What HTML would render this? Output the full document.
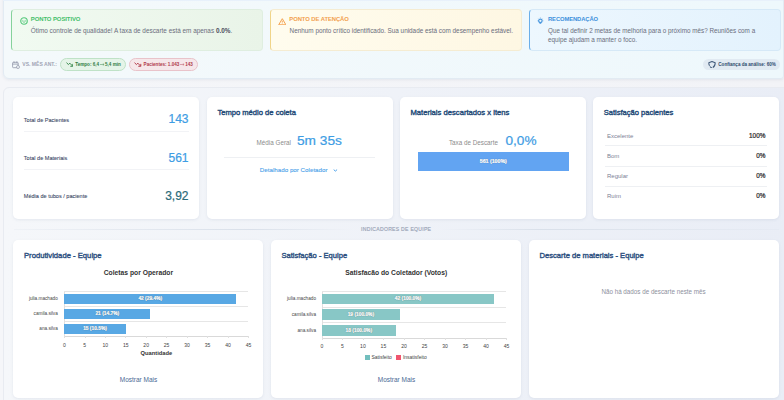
<!DOCTYPE html>
<html><head><meta charset="utf-8"><style>
html,body{margin:0;padding:0;}
body{width:784px;height:400px;overflow:hidden;position:relative;background:linear-gradient(90deg,#f5f6f9,#f2f3f7);font-family:"Liberation Sans", sans-serif;}
body>div,body>svg{position:absolute;line-height:1;white-space:nowrap;box-sizing:border-box;}
</style></head><body>
<div style="left:2.60px;top:-10.00px;width:781.20px;height:89.40px;background:linear-gradient(90deg,#f4f9fb,#eef8fc);border:0.6px solid #e2ebf3;border-radius:0 0 3px 6px;box-shadow:0 1px 3px rgba(90,110,140,0.10);"></div>
<div style="left:3.20px;top:0.00px;width:779.80px;height:1.10px;background:#e8f1fb;"></div>
<div style="left:11.00px;top:9.30px;width:252.30px;height:42.10px;background:linear-gradient(90deg,#f1faf1,#e9f4e8);border:0.5px solid #dfeee0;border-left:1.2px solid #86d29b;border-radius:4px;box-sizing:border-box;"></div>
<div style="left:270.30px;top:9.30px;width:251.50px;height:42.10px;background:linear-gradient(90deg,#fffcee,#fef7e3);border:0.5px solid #f5ecd2;border-left:1.2px solid #f0d489;border-radius:4px;box-sizing:border-box;"></div>
<div style="left:529.00px;top:9.30px;width:251.80px;height:42.10px;background:linear-gradient(90deg,#edf7fe,#e3f2fd);border:0.5px solid #d6e9f7;border-left:1.2px solid #6aaee9;border-radius:4px;box-sizing:border-box;"></div>
<div style="left:30.80px;top:16.66px;font-size:5.95px;color:#45c06b;font-weight:bold;letter-spacing:-0.08px;">PONTO POSITIVO</div>
<div style="left:289.30px;top:16.71px;font-size:5.9px;color:#f2a04e;font-weight:bold;letter-spacing:-0.08px;">PONTO DE ATENÇÃO</div>
<div style="left:548.00px;top:16.59px;font-size:5.8px;color:#3c90dc;font-weight:bold;letter-spacing:-0.08px;">RECOMENDAÇÃO</div>
<div style="left:30.80px;top:27.88px;font-size:6.4px;color:#6a6d7c;">Ótimo controle de qualidade! A taxa de descarte está em apenas <b style="color:#4a4d5c">0.0%</b>.</div>
<div style="left:289.60px;top:27.92px;font-size:6.36px;color:#6a6d7c;">Nenhum ponto crítico identificado. Sua unidade está com desempenho estável.</div>
<div style="left:548.00px;top:28.03px;font-size:6.34px;color:#6a6d7c;">Que tal definir 2 metas de melhoria para o próximo mês? Reuniões com a</div>
<div style="left:548.00px;top:36.93px;font-size:6.34px;color:#6a6d7c;">equipe ajudam a manter o foco.</div>
<svg style="left:19.5px;top:17.4px" width="8" height="8" viewBox="0 0 8 8"><circle cx="4" cy="4" r="3.25" fill="none" stroke="#55c87b" stroke-width="1.15"/><circle cx="2.9" cy="3.2" r="0.5" fill="#55c87b"/><circle cx="5.1" cy="3.2" r="0.5" fill="#55c87b"/><path d="M2.5 4.4 Q4 6.3 5.5 4.4" fill="none" stroke="#55c87b" stroke-width="0.85"/></svg>
<svg style="left:277.6px;top:18.1px" width="8.6" height="7.4" viewBox="0 0 8.6 7.4"><path d="M4.3 0.7 L7.9 6.8 L0.7 6.8 Z" fill="none" stroke="#f4a24f" stroke-width="1" stroke-linejoin="round"/><path d="M4.3 2.8 V4.6 M4.3 5.4 V5.9" stroke="#f4a24f" stroke-width="0.9"/></svg>
<svg style="left:536.8px;top:17px" width="7" height="7.5" viewBox="0 0 7 7.5"><circle cx="3.4" cy="3.8" r="1.75" fill="none" stroke="#4a97de" stroke-width="1.2"/><path d="M2.3 5.3 H4.5 L4.2 6.8 H2.6Z" fill="#4a97de"/><path d="M3.4 0.3V1.1 M0.3 3.8H1.0 M5.8 3.8H6.5 M1.3 1.6L1.8 2.1 M5.5 1.6L5.0 2.1" stroke="#6aaae6" stroke-width="0.55"/></svg>
<svg style="left:12px;top:60.8px" width="8" height="8" viewBox="0 0 8 8"><rect x="0.6" y="1.3" width="5.6" height="5.4" rx="0.8" fill="none" stroke="#9196a8" stroke-width="0.8"/><path d="M0.6 3.1 H6.2 M2 0.4 V2 M4.8 0.4 V2" stroke="#9196a8" stroke-width="0.8"/><circle cx="6" cy="6" r="1.5" fill="#f4f8fb" stroke="#9196a8" stroke-width="0.7"/></svg>
<div style="left:22.30px;top:62.43px;font-size:5.05px;color:#a0a4b4;font-weight:bold;letter-spacing:0px;">VS. MÊS ANT.:</div>
<div style="left:60.10px;top:58.20px;width:65.70px;height:12.50px;background:#e5f4e8;border:0.6px solid #bfe2c7;border-radius:7px;box-sizing:border-box;"></div>
<div style="left:129.20px;top:58.20px;width:68.90px;height:12.50px;background:#f6e7ea;border:0.6px solid #e9c3ca;border-radius:7px;box-sizing:border-box;"></div>
<div style="left:703.40px;top:59.20px;width:77.00px;height:10.60px;background:#e1eaf2;border-radius:6px;"></div>
<svg style="left:65.7px;top:62.2px" width="7.6" height="5" viewBox="0 0 7.6 5"><path d="M0.5 0.7 L2.4 2.5 L3.9 1.2 L6.6 4.1 M4.3 4.3 H6.8 V1.9" fill="none" stroke="#3d8c50" stroke-width="1" stroke-linejoin="round"/></svg>
<svg style="left:134.4px;top:62.2px" width="7.6" height="5" viewBox="0 0 7.6 5"><path d="M0.5 0.7 L2.4 2.5 L3.9 1.2 L6.6 4.1 M4.3 4.3 H6.8 V1.9" fill="none" stroke="#b5404f" stroke-width="1" stroke-linejoin="round"/></svg>
<div style="left:75.20px;top:63.01px;font-size:4.6px;color:#2f7d44;font-weight:bold;">Tempo: 6,4<svg width="4.6" height="3" viewBox="0 0 4.6 3" style="display:inline-block;vertical-align:0.2px;margin:0 0.3px 0 1px"><path d="M0 1.5 H4 M2.8 0.4 L4.1 1.5 L2.8 2.6" fill="none" stroke="#5a9a68" stroke-width="0.6"/></svg>5,4 min</div>
<div style="left:143.60px;top:63.01px;font-size:4.6px;color:#b03a4a;font-weight:bold;">Pacientes: 1.043<svg width="4.6" height="3" viewBox="0 0 4.6 3" style="display:inline-block;vertical-align:0.2px;margin:0 0.3px 0 1px"><path d="M0 1.5 H4 M2.8 0.4 L4.1 1.5 L2.8 2.6" fill="none" stroke="#c46a77" stroke-width="0.6"/></svg>143</div>
<svg style="left:708.3px;top:60.8px" width="8" height="7.6" viewBox="0 0 8 7.6"><path d="M4 0.6 L7.2 1.7 C7.2 4.4 6 6.2 4 6.9 C2 6.2 0.8 4.4 0.8 1.7 Z" fill="none" stroke="#3f5878" stroke-width="1.05" stroke-linejoin="round" stroke-dasharray="9 0.8 2.5 0.8 30"/></svg>
<div style="left:718.30px;top:63.02px;font-size:4.58px;color:#2e4a6d;font-weight:bold;">Confiança da análise: 60%</div>
<div style="left:3.40px;top:87.40px;width:786.60px;height:332.60px;background:linear-gradient(90deg,#f5f7fa,#e9edf6);border:0.6px solid #e8ebf1;border-radius:6px;"></div>
<div style="left:13.20px;top:97.20px;width:185.80px;height:121.40px;background:#fff;border-radius:5px;box-shadow:0 1px 3px rgba(80,100,140,0.10);"></div>
<div style="left:206.50px;top:97.20px;width:186.00px;height:121.40px;background:#fff;border-radius:5px;box-shadow:0 1px 3px rgba(80,100,140,0.10);"></div>
<div style="left:400.00px;top:97.20px;width:185.50px;height:121.40px;background:#fff;border-radius:5px;box-shadow:0 1px 3px rgba(80,100,140,0.10);"></div>
<div style="left:593.00px;top:97.20px;width:186.00px;height:121.40px;background:#fff;border-radius:5px;box-shadow:0 1px 3px rgba(80,100,140,0.10);"></div>
<div style="left:23.80px;top:117.95px;font-size:5.55px;color:#3b4866;-webkit-text-stroke:0.08px currentColor;">Total de Pacientes</div>
<div style="right:595.50px;text-align:right;top:113.49px;font-size:12px;color:#3e9de4;-webkit-text-stroke:0.22px currentColor;">143</div>
<div style="left:23.50px;top:130.60px;width:165.50px;height:0.60px;background:#f2f3f6;"></div>
<div style="left:23.80px;top:156.05px;font-size:5.55px;color:#3b4866;-webkit-text-stroke:0.08px currentColor;">Total de Materiais</div>
<div style="right:595.50px;text-align:right;top:151.89px;font-size:12px;color:#3e9de4;-webkit-text-stroke:0.22px currentColor;">561</div>
<div style="left:23.50px;top:169.40px;width:165.50px;height:0.60px;background:#f2f3f6;"></div>
<div style="left:23.80px;top:194.25px;font-size:5.55px;color:#3b4866;-webkit-text-stroke:0.08px currentColor;">Média de tubos / paciente</div>
<div style="right:595.50px;text-align:right;top:189.89px;font-size:12px;color:#2c6b7a;-webkit-text-stroke:0.22px currentColor;">3,92</div>
<div style="left:217.40px;top:109.42px;font-size:7.6px;color:#234a77;-webkit-text-stroke:0.38px currentColor;">Tempo médio de coleta</div>
<div style="left:256.60px;top:139.92px;font-size:6.3px;color:#8c8c8c;">Média Geral</div>
<div style="left:297.00px;top:133.85px;font-size:13.7px;color:#3e9de4;-webkit-text-stroke:0.22px currentColor;">5m 35s</div>
<div style="left:223.80px;top:157.30px;width:151.50px;height:0.60px;background:#eef0f3;"></div>
<div style="left:259.80px;top:167.18px;font-size:6.22px;color:#4ca2ea;-webkit-text-stroke:0.1px currentColor;">Detalhado por Coletador</div>
<svg style="left:333px;top:169.4px" width="5" height="3" viewBox="0 0 5 3"><path d="M0.7 0.6 L2.4 2.1 L4.1 0.6" fill="none" stroke="#4ca2ea" stroke-width="1"/></svg>
<div style="left:410.40px;top:109.37px;font-size:7.65px;color:#234a77;-webkit-text-stroke:0.38px currentColor;">Materiais descartados x itens</div>
<div style="left:448.90px;top:139.92px;font-size:6.3px;color:#8c8c8c;">Taxa de Descarte</div>
<div style="left:505.50px;top:133.74px;font-size:13.6px;color:#3e9de4;-webkit-text-stroke:0.22px currentColor;">0,0%</div>
<div style="left:417.70px;top:151.80px;width:150.90px;height:19.30px;background:#62a4f2;"></div>
<div style="left:463.30px;width:60px;text-align:center;top:159.11px;font-size:5.25px;color:#fff;font-weight:bold;-webkit-text-stroke:0.2px #fff;text-shadow:0 0 1px rgba(0,0,0,0.45);">561 (100%)</div>
<div style="left:603.70px;top:109.46px;font-size:7.55px;color:#234a77;-webkit-text-stroke:0.38px currentColor;">Satisfação pacientes</div>
<div style="left:607.00px;top:132.87px;font-size:6.0px;color:#7b8196;">Excelente</div>
<div style="right:18.60px;text-align:right;top:132.53px;font-size:6.4px;color:#2a2a2a;-webkit-text-stroke:0.22px currentColor;">100%</div>
<div style="left:605.00px;top:145.00px;width:162.00px;height:0.60px;background:#eef0f3;"></div>
<div style="left:607.00px;top:153.07px;font-size:6.0px;color:#7b8196;">Bom</div>
<div style="right:18.60px;text-align:right;top:152.73px;font-size:6.4px;color:#2a2a2a;-webkit-text-stroke:0.22px currentColor;">0%</div>
<div style="left:605.00px;top:165.70px;width:162.00px;height:0.60px;background:#eef0f3;"></div>
<div style="left:607.00px;top:173.27px;font-size:6.0px;color:#7b8196;">Regular</div>
<div style="right:18.60px;text-align:right;top:172.93px;font-size:6.4px;color:#2a2a2a;-webkit-text-stroke:0.22px currentColor;">0%</div>
<div style="left:605.00px;top:186.10px;width:162.00px;height:0.60px;background:#eef0f3;"></div>
<div style="left:607.00px;top:193.47px;font-size:6.0px;color:#7b8196;">Ruim</div>
<div style="right:18.60px;text-align:right;top:193.13px;font-size:6.4px;color:#2a2a2a;-webkit-text-stroke:0.22px currentColor;">0%</div>
<div style="left:13.50px;top:229.10px;width:339.00px;height:0.60px;background:linear-gradient(90deg,rgba(215,222,232,0.2),rgba(215,222,232,0.9) 70%,rgba(215,222,232,0));"></div>
<div style="left:440.00px;top:229.10px;width:339.00px;height:0.60px;background:linear-gradient(90deg,rgba(215,222,232,0),rgba(215,222,232,0.9) 30%,rgba(215,222,232,0.2));"></div>
<div style="left:336.20px;width:120px;text-align:center;top:227.33px;font-size:5.1px;color:#98a2b5;letter-spacing:0.27px;-webkit-text-stroke:0.15px currentColor;">INDICADORES DE EQUIPE</div>
<div style="left:13.20px;top:240.00px;width:249.80px;height:157.70px;background:#fff;border-radius:5px;box-shadow:0 1px 3px rgba(80,100,140,0.10);"></div>
<div style="left:271.00px;top:240.00px;width:249.50px;height:157.70px;background:#fff;border-radius:5px;box-shadow:0 1px 3px rgba(80,100,140,0.10);"></div>
<div style="left:529.00px;top:240.00px;width:250.00px;height:157.70px;background:#fff;border-radius:5px;box-shadow:0 1px 3px rgba(80,100,140,0.10);"></div>
<div style="left:24.00px;top:252.15px;font-size:7.68px;color:#2d5080;-webkit-text-stroke:0.38px currentColor;">Produtividade - Equipe</div>
<div style="left:281.40px;top:252.13px;font-size:7.58px;color:#2d5080;-webkit-text-stroke:0.38px currentColor;">Satisfação - Equipe</div>
<div style="left:539.50px;top:252.12px;font-size:7.6px;color:#2d5080;-webkit-text-stroke:0.38px currentColor;">Descarte de materiais - Equipe</div>
<div style="left:38.40px;width:200px;text-align:center;top:269.54px;font-size:6.75px;color:#333;font-weight:bold;">Coletas por Operador</div>
<div style="left:64.30px;top:291.35px;width:184.20px;height:0.50px;background:#e6e6e6;"></div>
<div style="left:64.30px;top:306.35px;width:184.20px;height:0.50px;background:#e6e6e6;"></div>
<div style="left:64.30px;top:320.95px;width:184.20px;height:0.50px;background:#e6e6e6;"></div>
<div style="left:64.30px;top:335.70px;width:184.20px;height:0.60px;background:#d9d9d9;"></div>
<div style="left:64.05px;top:291.60px;width:0.50px;height:46.70px;background:#e0e0e0;"></div>
<div style="left:64.05px;top:336.00px;width:0.50px;height:2.30px;background:#e0e0e0;"></div>
<div style="left:54.30px;width:20px;text-align:center;top:343.18px;font-size:5.05px;color:#3f3f3f;">0</div>
<div style="left:84.52px;top:336.00px;width:0.50px;height:2.30px;background:#e0e0e0;"></div>
<div style="left:74.77px;width:20px;text-align:center;top:343.18px;font-size:5.05px;color:#3f3f3f;">5</div>
<div style="left:104.98px;top:336.00px;width:0.50px;height:2.30px;background:#e0e0e0;"></div>
<div style="left:95.23px;width:20px;text-align:center;top:343.18px;font-size:5.05px;color:#3f3f3f;">10</div>
<div style="left:125.45px;top:336.00px;width:0.50px;height:2.30px;background:#e0e0e0;"></div>
<div style="left:115.70px;width:20px;text-align:center;top:343.18px;font-size:5.05px;color:#3f3f3f;">15</div>
<div style="left:145.92px;top:336.00px;width:0.50px;height:2.30px;background:#e0e0e0;"></div>
<div style="left:136.17px;width:20px;text-align:center;top:343.18px;font-size:5.05px;color:#3f3f3f;">20</div>
<div style="left:166.38px;top:336.00px;width:0.50px;height:2.30px;background:#e0e0e0;"></div>
<div style="left:156.63px;width:20px;text-align:center;top:343.18px;font-size:5.05px;color:#3f3f3f;">25</div>
<div style="left:186.85px;top:336.00px;width:0.50px;height:2.30px;background:#e0e0e0;"></div>
<div style="left:177.10px;width:20px;text-align:center;top:343.18px;font-size:5.05px;color:#3f3f3f;">30</div>
<div style="left:207.32px;top:336.00px;width:0.50px;height:2.30px;background:#e0e0e0;"></div>
<div style="left:197.57px;width:20px;text-align:center;top:343.18px;font-size:5.05px;color:#3f3f3f;">35</div>
<div style="left:227.78px;top:336.00px;width:0.50px;height:2.30px;background:#e0e0e0;"></div>
<div style="left:218.03px;width:20px;text-align:center;top:343.18px;font-size:5.05px;color:#3f3f3f;">40</div>
<div style="left:248.25px;top:336.00px;width:0.50px;height:2.30px;background:#e0e0e0;"></div>
<div style="left:238.50px;width:20px;text-align:center;top:343.18px;font-size:5.05px;color:#3f3f3f;">45</div>
<div style="left:64.30px;top:293.50px;width:171.92px;height:10.40px;background:#58a8e4;"></div>
<div style="left:120.26px;width:60px;text-align:center;top:297.14px;font-size:4.85px;color:#fff;font-weight:bold;-webkit-text-stroke:0.2px #fff;text-shadow:0 0 1px rgba(0,0,0,0.6);">42 (29.4%)</div>
<div style="right:726.20px;text-align:right;top:296.97px;font-size:4.7px;color:#444;">julia.machado</div>
<div style="left:64.30px;top:308.60px;width:85.96px;height:10.10px;background:#58a8e4;"></div>
<div style="left:77.28px;width:60px;text-align:center;top:312.09px;font-size:4.85px;color:#fff;font-weight:bold;-webkit-text-stroke:0.2px #fff;text-shadow:0 0 1px rgba(0,0,0,0.6);">21 (14.7%)</div>
<div style="right:726.20px;text-align:right;top:311.92px;font-size:4.7px;color:#444;">camila.silva</div>
<div style="left:64.30px;top:323.90px;width:61.40px;height:10.10px;background:#58a8e4;"></div>
<div style="left:65.00px;width:60px;text-align:center;top:327.39px;font-size:4.85px;color:#fff;font-weight:bold;-webkit-text-stroke:0.2px #fff;text-shadow:0 0 1px rgba(0,0,0,0.6);">15 (10.5%)</div>
<div style="right:726.20px;text-align:right;top:327.22px;font-size:4.7px;color:#444;">ana.silva</div>
<div style="left:126.40px;width:60px;text-align:center;top:351.18px;font-size:5.75px;color:#333;font-weight:bold;">Quantidade</div>
<div style="left:296.30px;width:200px;text-align:center;top:269.64px;font-size:6.75px;color:#333;font-weight:bold;">Satisfacão do Coletador (Votos)</div>
<div style="left:321.90px;top:291.25px;width:184.60px;height:0.50px;background:#e6e6e6;"></div>
<div style="left:321.90px;top:306.65px;width:184.60px;height:0.50px;background:#e6e6e6;"></div>
<div style="left:321.90px;top:322.05px;width:184.60px;height:0.50px;background:#e6e6e6;"></div>
<div style="left:321.90px;top:337.70px;width:184.60px;height:0.60px;background:#d9d9d9;"></div>
<div style="left:321.65px;top:291.50px;width:0.50px;height:48.80px;background:#e0e0e0;"></div>
<div style="left:321.65px;top:338.00px;width:0.50px;height:2.30px;background:#e0e0e0;"></div>
<div style="left:311.90px;width:20px;text-align:center;top:344.38px;font-size:5.05px;color:#3f3f3f;">0</div>
<div style="left:342.16px;top:338.00px;width:0.50px;height:2.30px;background:#e0e0e0;"></div>
<div style="left:332.41px;width:20px;text-align:center;top:344.38px;font-size:5.05px;color:#3f3f3f;">5</div>
<div style="left:362.67px;top:338.00px;width:0.50px;height:2.30px;background:#e0e0e0;"></div>
<div style="left:352.92px;width:20px;text-align:center;top:344.38px;font-size:5.05px;color:#3f3f3f;">10</div>
<div style="left:383.18px;top:338.00px;width:0.50px;height:2.30px;background:#e0e0e0;"></div>
<div style="left:373.43px;width:20px;text-align:center;top:344.38px;font-size:5.05px;color:#3f3f3f;">15</div>
<div style="left:403.69px;top:338.00px;width:0.50px;height:2.30px;background:#e0e0e0;"></div>
<div style="left:393.94px;width:20px;text-align:center;top:344.38px;font-size:5.05px;color:#3f3f3f;">20</div>
<div style="left:424.21px;top:338.00px;width:0.50px;height:2.30px;background:#e0e0e0;"></div>
<div style="left:414.46px;width:20px;text-align:center;top:344.38px;font-size:5.05px;color:#3f3f3f;">25</div>
<div style="left:444.72px;top:338.00px;width:0.50px;height:2.30px;background:#e0e0e0;"></div>
<div style="left:434.97px;width:20px;text-align:center;top:344.38px;font-size:5.05px;color:#3f3f3f;">30</div>
<div style="left:465.23px;top:338.00px;width:0.50px;height:2.30px;background:#e0e0e0;"></div>
<div style="left:455.48px;width:20px;text-align:center;top:344.38px;font-size:5.05px;color:#3f3f3f;">35</div>
<div style="left:485.74px;top:338.00px;width:0.50px;height:2.30px;background:#e0e0e0;"></div>
<div style="left:475.99px;width:20px;text-align:center;top:344.38px;font-size:5.05px;color:#3f3f3f;">40</div>
<div style="left:506.25px;top:338.00px;width:0.50px;height:2.30px;background:#e0e0e0;"></div>
<div style="left:496.50px;width:20px;text-align:center;top:344.38px;font-size:5.05px;color:#3f3f3f;">45</div>
<div style="left:321.90px;top:293.50px;width:172.29px;height:10.70px;background:#88c7c6;"></div>
<div style="left:378.05px;width:60px;text-align:center;top:297.29px;font-size:4.85px;color:#fff;font-weight:bold;-webkit-text-stroke:0.2px #fff;text-shadow:0 0 1px rgba(0,0,0,0.6);">42 (100.0%)</div>
<div style="right:468.00px;text-align:right;top:297.12px;font-size:4.7px;color:#444;">julia.machado</div>
<div style="left:321.90px;top:309.30px;width:77.94px;height:10.60px;background:#88c7c6;"></div>
<div style="left:330.87px;width:60px;text-align:center;top:313.04px;font-size:4.85px;color:#fff;font-weight:bold;-webkit-text-stroke:0.2px #fff;text-shadow:0 0 1px rgba(0,0,0,0.6);">19 (100.0%)</div>
<div style="right:468.00px;text-align:right;top:312.87px;font-size:4.7px;color:#444;">camila.silva</div>
<div style="left:321.90px;top:325.10px;width:73.84px;height:10.50px;background:#88c7c6;"></div>
<div style="left:328.82px;width:60px;text-align:center;top:328.79px;font-size:4.85px;color:#fff;font-weight:bold;-webkit-text-stroke:0.2px #fff;text-shadow:0 0 1px rgba(0,0,0,0.6);">18 (100.0%)</div>
<div style="right:468.00px;text-align:right;top:328.62px;font-size:4.7px;color:#444;">ana.silva</div>
<div style="left:364.90px;top:354.70px;width:5.10px;height:5.10px;background:#73bfbe;"></div>
<div style="left:371.40px;top:355.23px;font-size:4.98px;color:#3f3f3f;">Satisfeito</div>
<div style="left:396.40px;top:354.70px;width:5.10px;height:5.10px;background:#f0566f;"></div>
<div style="left:402.90px;top:355.23px;font-size:4.98px;color:#3f3f3f;">Insatisfeito</div>
<div style="left:98.50px;width:80px;text-align:center;top:376.75px;font-size:6.5px;color:#4b6a95;">Mostrar Mais</div>
<div style="left:356.50px;width:80px;text-align:center;top:376.75px;font-size:6.5px;color:#4b6a95;">Mostrar Mais</div>
<div style="left:553.50px;width:200px;text-align:center;top:288.74px;font-size:6.27px;color:#8d8f9d;">Não há dados de descarte neste mês</div>
</body></html>
